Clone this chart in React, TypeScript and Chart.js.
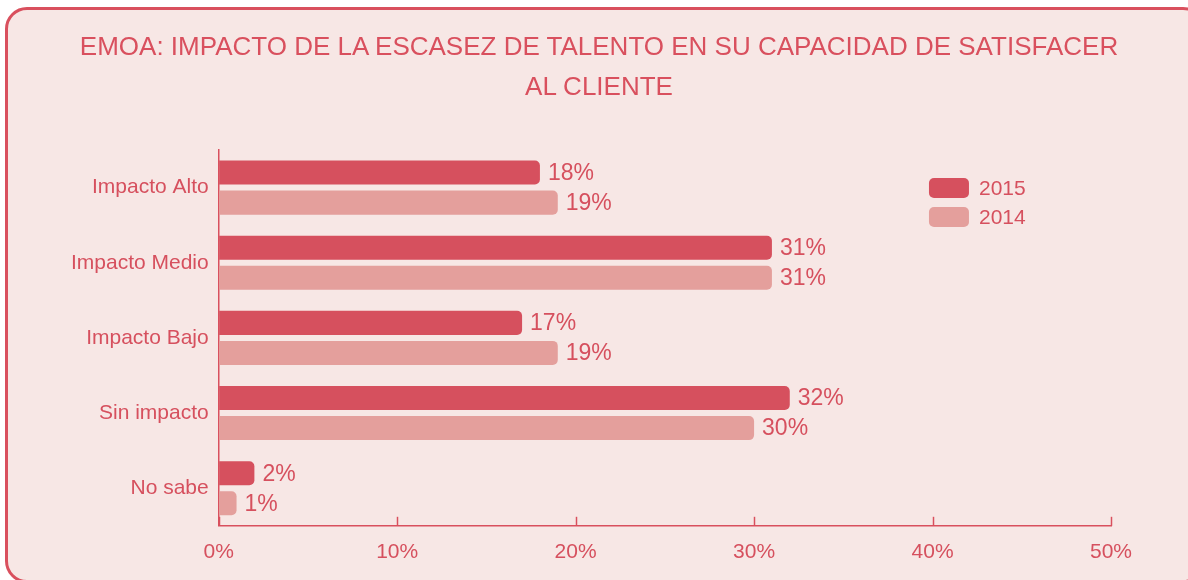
import React, { useEffect, useRef } from "react";
import { Chart, registerables } from "chart.js";

Chart.register(...registerables);

const titleLines = [
  "EMOA: IMPACTO DE LA ESCASEZ DE TALENTO EN SU CAPACIDAD DE SATISFACER",
  "AL CLIENTE",
];
const categories = ["Impacto Alto", "Impacto Medio", "Impacto Bajo", "Sin impacto", "No sabe"];
const seriesNames = ["2015", "2014"];
const values2015 = [18, 31, 17, 32, 2];
const values2014 = [19, 31, 19, 30, 1];
const xTicks = [0, 10, 20, 30, 40, 50];

const RED = "#d6505e";
const PINK = "#e49f9c";
const LINE = "#d9505e";
const BG = "#f7e7e5";
const FONT = "'Liberation Sans', Arial, Helvetica, sans-serif";

const extrasPlugin = {
  id: "extras",
  afterDatasetsDraw(chart: any) {
    const ctx = chart.ctx;
    const xs = chart.scales.x;
    const area = chart.chartArea;
    ctx.save();
    // inner ticks on x axis
    ctx.strokeStyle = LINE;
    ctx.lineWidth = 1.5;
    xTicks.forEach((v) => {
      const px = Math.round(xs.getPixelForValue(v)) + 0.5;
      ctx.beginPath();
      ctx.moveTo(px, area.bottom - 9);
      ctx.lineTo(px, area.bottom);
      ctx.stroke();
    });
    // value labels
    ctx.fillStyle = RED;
    ctx.font = `23px ${FONT}`;
    ctx.textAlign = "left";
    ctx.textBaseline = "middle";
    chart.data.datasets.forEach((ds: any, i: number) => {
      const meta = chart.getDatasetMeta(i);
      meta.data.forEach((bar: any, j: number) => {
        ctx.fillText(`${ds.data[j]}%`, bar.x + 8, bar.y + 1);
      });
    });
    // legend
    const lx = xs.getPixelForValue(39.8);
    const ly0 = area.top + 38;
    chart.data.datasets.forEach((ds: any, i: number) => {
      const y = ly0 + i * 29;
      ctx.fillStyle = ds.backgroundColor;
      ctx.beginPath();
      (ctx as any).roundRect(lx, y - 10, 40, 20, 5);
      ctx.fill();
      ctx.fillStyle = RED;
      ctx.font = `21px ${FONT}`;
      ctx.fillText(ds.label, lx + 50, y + 1);
    });
    ctx.restore();
  },
};

export default function App() {
  const ref = useRef<HTMLCanvasElement | null>(null);
  useEffect(() => {
    if (!ref.current) return;
    const chart = new Chart(ref.current, {
      type: "bar",
      data: {
        labels: categories,
        datasets: [
          {
            label: seriesNames[0],
            data: values2015,
            backgroundColor: RED,
            borderRadius: 5,
            borderSkipped: "start",
            categoryPercentage: 0.8,
            barPercentage: 0.8,
          },
          {
            label: seriesNames[1],
            data: values2014,
            backgroundColor: PINK,
            borderRadius: 5,
            borderSkipped: "start",
            categoryPercentage: 0.8,
            barPercentage: 0.8,
          },
        ],
      },
      options: {
        indexAxis: "y",
        responsive: false,
        animation: false,
        devicePixelRatio: 1,
        layout: { padding: { left: 20, right: 77, top: 150, bottom: 1 } },
        plugins: {
          legend: { display: false },
          tooltip: { enabled: false },
          title: { display: false },
        },
        scales: {
          x: {
            min: 0,
            max: 50,
            afterBuildTicks: (scale: any) => {
              scale.ticks = xTicks.map((v) => ({ value: v }));
            },
            grid: { display: true, drawOnChartArea: false, drawTicks: false, color: "transparent" },
            border: { display: true, color: LINE, width: 1.5 },
            ticks: {
              color: RED,
              padding: 14,
              font: { family: FONT, size: 21 },
              callback: (v: any) => `${v}%`,
            },
          },
          y: {
            afterFit: (scale: any) => {
              scale.width = 198.7;
            },
            grid: { display: true, drawOnChartArea: false, drawTicks: false, color: "transparent" },
            border: { display: true, color: LINE, width: 1.5 },
            ticks: {
              color: RED,
              padding: 10,
              font: { family: FONT, size: 21 },
            },
          },
        },
      },
      plugins: [extrasPlugin],
    });
    return () => chart.destroy();
  }, []);

  return (
    <div style={{ position: "fixed", left: 0, top: 0, width: 1188, height: 580, overflow: "hidden", background: "#ffffff" }}>
      <div
        style={{
          position: "absolute",
          left: 5,
          top: 7,
          width: 1200,
          height: 576,
          boxSizing: "border-box",
          border: `3px solid ${LINE}`,
          borderRadius: 22,
          background: BG,
        }}
      />
      <canvas ref={ref} width={1188} height={580} style={{ position: "absolute", left: 0, top: 0 }} />
      <div
        style={{
          position: "absolute",
          left: 0,
          top: 26,
          width: 1198,
          textAlign: "center",
          color: LINE,
          fontFamily: FONT,
          fontSize: 26,
          lineHeight: "40px",
          whiteSpace: "nowrap",
        }}
      >
        {titleLines.map((t, i) => (
          <div key={i}>{t}</div>
        ))}
      </div>
    </div>
  );
}
